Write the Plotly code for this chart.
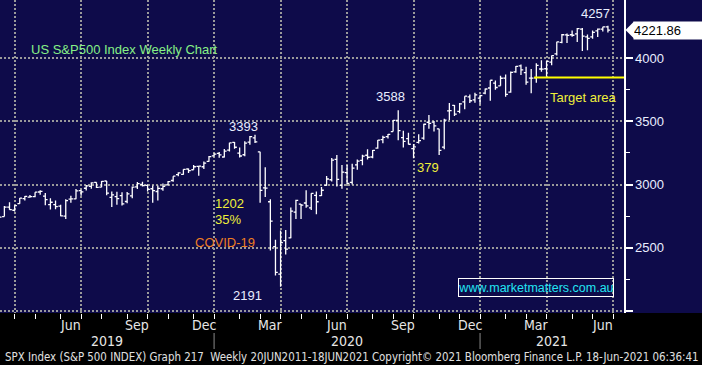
import pandas as pd
import plotly.graph_objects as go

# ---------------- data (weekly S&P 500 bars, week-ending Friday) ----------------
week_end = [
    "2019-03-01", "2019-03-08", "2019-03-15", "2019-03-22", "2019-03-29",
    "2019-04-05", "2019-04-12", "2019-04-19", "2019-04-26",
    "2019-05-03", "2019-05-10", "2019-05-17", "2019-05-24", "2019-05-31",
    "2019-06-07", "2019-06-14", "2019-06-21", "2019-06-28",
    "2019-07-05", "2019-07-12", "2019-07-19", "2019-07-26",
    "2019-08-02", "2019-08-09", "2019-08-16", "2019-08-23", "2019-08-30",
    "2019-09-06", "2019-09-13", "2019-09-20", "2019-09-27",
    "2019-10-04", "2019-10-11", "2019-10-18", "2019-10-25",
    "2019-11-01", "2019-11-08", "2019-11-15", "2019-11-22", "2019-11-29",
    "2019-12-06", "2019-12-13", "2019-12-20", "2019-12-27",
    "2020-01-03", "2020-01-10", "2020-01-17", "2020-01-24", "2020-01-31",
    "2020-02-07", "2020-02-14", "2020-02-21", "2020-02-28",
    "2020-03-06", "2020-03-13", "2020-03-20", "2020-03-27",
    "2020-04-03", "2020-04-10", "2020-04-17", "2020-04-24",
    "2020-05-01", "2020-05-08", "2020-05-15", "2020-05-22", "2020-05-29",
    "2020-06-05", "2020-06-12", "2020-06-19", "2020-06-26",
    "2020-07-03", "2020-07-10", "2020-07-17", "2020-07-24", "2020-07-31",
    "2020-08-07", "2020-08-14", "2020-08-21", "2020-08-28",
    "2020-09-04", "2020-09-11", "2020-09-18", "2020-09-25",
    "2020-10-02", "2020-10-09", "2020-10-16", "2020-10-23", "2020-10-30",
    "2020-11-06", "2020-11-13", "2020-11-20", "2020-11-27",
    "2020-12-04", "2020-12-11", "2020-12-18", "2020-12-25",
    "2021-01-01", "2021-01-08", "2021-01-15", "2021-01-22", "2021-01-29",
    "2021-02-05", "2021-02-12", "2021-02-19", "2021-02-26",
    "2021-03-05", "2021-03-12", "2021-03-19", "2021-03-26",
    "2021-04-02", "2021-04-09", "2021-04-16", "2021-04-23", "2021-04-30",
    "2021-05-07", "2021-05-14", "2021-05-21", "2021-05-28",
    "2021-06-04", "2021-06-11", "2021-06-18",
]
open_px = [
    2796, 2798, 2747, 2822, 2797,
    2849, 2889, 2900, 2904,
    2941, 2908, 2841, 2841, 2830,
    2751, 2885, 2886, 2952,
    2971, 2985, 3017, 2979,
    3028, 2898, 2904, 2913, 2866,
    2910, 2981, 3002, 2994,
    2967, 2945, 2967, 2997,
    3032, 3078, 3081, 3123, 3117,
    3144, 3141, 3183, 3227,
    3247, 3218, 3273, 3333, 3248,
    3236, 3335, 3370, 3258,
    2974, 2864, 2509, 2291,
    2556, 2578, 2782, 2846,
    2854, 2815, 2915, 2913, 2993,
    3038, 3199, 2993, 3094,
    3018, 3155, 3191, 3232, 3218,
    3289, 3356, 3380, 3419,
    3507, 3371, 3363, 3285,
    3334, 3368, 3493, 3494, 3441,
    3296, 3583, 3627, 3579,
    3654, 3694, 3670, 3684,
    3723, 3764, 3803, 3781, 3842,
    3731, 3892, 3939, 3886,
    3842, 3844, 3914, 3916,
    3969, 4034, 4124, 4184, 4185,
    4192, 4229, 4169, 4168,
    4216, 4230, 4248,
]
high_px = [
    2813, 2816, 2830, 2860, 2836,
    2893, 2910, 2918, 2940,
    2955, 2933, 2892, 2874, 2841,
    2884, 2911, 2964, 2958,
    2996, 3018, 3018, 3028,
    3029, 2945, 2943, 2939, 2941,
    2985, 3021, 3022, 3000,
    2993, 2993, 3008, 3028,
    3066, 3098, 3121, 3128, 3154,
    3146, 3183, 3226, 3248,
    3258, 3282, 3330, 3337, 3293,
    3342, 3385, 3394, 3260,
    3137, 2883, 2563, 2637,
    2641, 2819, 2880, 2846,
    2955, 2932, 2945, 2980, 3068,
    3211, 3233, 3155, 3155,
    3165, 3198, 3236, 3280, 3273,
    3352, 3387, 3399, 3509,
    3588, 3425, 3409, 3321,
    3398, 3482, 3550, 3502, 3441,
    3521, 3646, 3629, 3645,
    3699, 3712, 3726, 3711,
    3760, 3826, 3823, 3860, 3870,
    3894, 3937, 3950, 3931,
    3915, 3960, 3983, 3978,
    4021, 4130, 4191, 4195, 4219,
    4238, 4238, 4187, 4218,
    4234, 4249, 4257,
]
low_px = [
    2775, 2722, 2747, 2800, 2786,
    2849, 2874, 2896, 2899,
    2920, 2836, 2802, 2805, 2750,
    2728, 2856, 2884, 2912,
    2953, 2966, 2973, 2979,
    2915, 2822, 2840, 2834, 2853,
    2891, 2964, 2985, 2946,
    2856, 2874, 2952, 2992,
    3023, 3066, 3078, 3091, 3117,
    3070, 3124, 3180, 3223,
    3212, 3214, 3261, 3283, 3214,
    3224, 3315, 3328, 2856,
    2902, 2479, 2281, 2192,
    2447, 2575, 2727, 2727,
    2816, 2798, 2766, 2909, 2991,
    3025, 2984, 2966, 3004,
    3000, 3118, 3153, 3199, 3209,
    3284, 3326, 3364, 3419,
    3350, 3293, 3316, 3209,
    3324, 3354, 3441, 3420, 3234,
    3279, 3511, 3543, 3565,
    3595, 3646, 3648, 3636,
    3715, 3663, 3750, 3781, 3694,
    3726, 3885, 3866, 3789,
    3723, 3805, 3892, 3853,
    3944, 4021, 4118, 4119, 4169,
    4127, 4057, 4062, 4154,
    4168, 4210, 4203,
]
close_px = [
    2804, 2743, 2822, 2801, 2834,
    2893, 2907, 2905, 2940,
    2946, 2881, 2860, 2826, 2752,
    2873, 2887, 2950, 2942,
    2990, 3014, 2977, 3026,
    2932, 2919, 2889, 2847, 2926,
    2979, 3007, 2992, 2962,
    2952, 2970, 2986, 3023,
    3067, 3093, 3120, 3110, 3141,
    3146, 3169, 3221, 3240,
    3235, 3265, 3330, 3295, 3226,
    3328, 3380, 3338, 2954,
    2972, 2711, 2305, 2541,
    2489, 2790, 2875, 2837,
    2831, 2930, 2864, 2955, 3044,
    3194, 3041, 3098, 3009,
    3130, 3185, 3225, 3216, 3271,
    3351, 3373, 3397, 3508,
    3427, 3341, 3319, 3298,
    3348, 3477, 3484, 3465, 3270,
    3509, 3585, 3558, 3638,
    3699, 3663, 3709, 3703,
    3756, 3825, 3768, 3841, 3714,
    3887, 3935, 3907, 3811,
    3842, 3943, 3913, 3975,
    4020, 4129, 4185, 4180, 4181,
    4233, 4174, 4156, 4204,
    4230, 4247, 4221.86,
]

last_price = 4221.86
target_level = 3847
target_start = "2021-03-09"

y_ticks = [2000, 2500, 3000, 3500, 4000]
y_tick_text = ["", "2500", "3000", "3500", "4000"]
y_minor_ticks = [2250, 2750, 3250, 3750]
quarter_month_names = {3: "Mar", 6: "Jun", 9: "Sep", 12: "Dec"}

X_RANGE = ["2019-03-09", "2021-07-10"]
Y_RANGE = [1984, 4460]

# ---------------- derived axis helpers ----------------
fridays = pd.date_range("2019-01-04", "2021-07-30", freq="W-FRI")
fr = pd.Series(fridays, index=fridays)
month_last = [pd.Timestamp(d) for d in fr.groupby(fr.index.to_period("M")).max().values]
lo, hi = pd.Timestamp(X_RANGE[0]), pd.Timestamp(X_RANGE[1])
month_ticks = [d for d in month_last if lo <= d <= hi]
quarter_ticks = [d for d in month_ticks if d.month in quarter_month_names]

month_labels = []
for i in range(1, len(month_last)):
    d = month_last[i]
    if d.month in quarter_month_names and lo <= d <= hi + pd.Timedelta(days=7):
        mid = month_last[i - 1] + (d - month_last[i - 1]) / 2
        if mid > lo + pd.Timedelta(days=20):
            month_labels.append((mid, quarter_month_names[d.month]))

year_bounds = [d for d in quarter_ticks if d.month == 12]
year_edges = [lo] + year_bounds + [hi]
year_labels = []
for i in range(len(year_edges) - 1):
    mid = year_edges[i] + (year_edges[i + 1] - year_edges[i]) / 2
    year_labels.append((mid, str(year_edges[i].year if i == 0 else year_edges[i].year + 1)))

fmt = lambda d: pd.Timestamp(d).strftime("%Y-%m-%d %H:%M")

NAVY = "#0e0b4a"
GRID = "#9a9a9a"
WHITE_TXT = "#e9eeff"
YELLOW = "#f0f03a"
FONT = "Liberation Sans, Arial, sans-serif"
NARROW = "Liberation Sans Narrow, DejaVu Sans Condensed, Arial Narrow, Liberation Sans, sans-serif"

fig = go.Figure()
fig.add_trace(go.Ohlc(
    x=week_end, open=open_px, high=high_px, low=low_px, close=close_px,
    increasing=dict(line=dict(color="white", width=1.3)),
    decreasing=dict(line=dict(color="white", width=1.3)),
    tickwidth=0.45, showlegend=False, hoverinfo="skip",
))

PH = 313.0  # plot height px
PW = 624.0  # plot width px

def py(pix):
    return (PH - pix) / PH

def px(pix):
    return pix / PW

annotations = []
for d, name in month_labels:
    annotations.append(dict(x=fmt(d), xref="x", y=py(325), yref="paper", text=name,
                            showarrow=False, xanchor="center", yanchor="middle",
                            font=dict(family=NARROW, size=14, color="#e6e6e6")))
for d, name in year_labels:
    annotations.append(dict(x=fmt(d), xref="x", y=py(341), yref="paper", text=name,
                            showarrow=False, xanchor="center", yanchor="middle",
                            font=dict(family=NARROW, size=14, color="#e6e6e6")))

annotations.append(dict(
    x=px(3), xref="paper", y=py(357), yref="paper", xanchor="left", yanchor="middle",
    text="SPX Index (S&P 500 INDEX) Graph 217&nbsp;&nbsp;Weekly 20JUN2011-18JUN2021 Copyright\u00a9 2021 Bloomberg Finance L.P. 18-Jun-2021 06:36:41",
    showarrow=False, font=dict(family=NARROW, size=11.4, color="#e0e0e0")))

annotations += [
    dict(x=px(29), xref="paper", y=py(50), yref="paper", text="US S&P500 Index Weekly Chart",
         xanchor="left", yanchor="middle", showarrow=False,
         font=dict(family=FONT, size=13, color="#86f086")),
    dict(x="2020-02-05", y=3458, text="3393", xanchor="center", yanchor="middle", showarrow=False,
         font=dict(family=FONT, size=13, color=WHITE_TXT)),
    dict(x="2019-12-26", y=2851, text="1202", xanchor="left", yanchor="middle", showarrow=False,
         font=dict(family=FONT, size=13, color=YELLOW)),
    dict(x="2019-12-26", y=2725, text="35%", xanchor="left", yanchor="middle", showarrow=False,
         font=dict(family=FONT, size=13, color=YELLOW)),
    dict(x="2019-11-28", y=2543, text="COVID-19", xanchor="left", yanchor="middle", showarrow=False,
         font=dict(family=FONT, size=13, color="#ef7d22")),
    dict(x="2020-02-11", y=2126, text="2191", xanchor="center", yanchor="middle", showarrow=False,
         font=dict(family=FONT, size=13, color=WHITE_TXT)),
    dict(x="2020-08-25", y=3695, text="3588", xanchor="center", yanchor="middle", showarrow=False,
         font=dict(family=FONT, size=13, color=WHITE_TXT)),
    dict(x="2020-10-15", y=3135, text="379", xanchor="center", yanchor="middle", showarrow=False,
         font=dict(family=FONT, size=13, color=YELLOW)),
    dict(x="2021-06-01", y=4357, text="4257", xanchor="center", yanchor="middle", showarrow=False,
         font=dict(family=FONT, size=13, color=WHITE_TXT)),
    dict(x="2021-05-15", y=3687, text="Target area", xanchor="center", yanchor="middle", showarrow=False,
         font=dict(family=FONT, size=13, color=YELLOW)),
    dict(x=px(536), xref="paper", y=py(287), yref="paper", text="www.marketmatters.com.au",
         xanchor="center", yanchor="middle", showarrow=False, width=154, height=17,
         bordercolor="white", borderwidth=1, borderpad=0,
         font=dict(family=FONT, size=12.5, color="#22e4f2")),
    dict(x=px(633), xref="paper", y=last_price, yref="y", text="4221.86",
         xanchor="left", yanchor="middle", showarrow=False, width=72, height=17, align="left",
         bgcolor="white", borderpad=0, font=dict(family=FONT, size=13, color="black")),
]

half_h = 8.5 * (Y_RANGE[1] - Y_RANGE[0]) / PH
shapes = [
    dict(type="rect", xref="paper", yref="paper", x0=1, x1=702 / PW, y0=0, y1=1,
         fillcolor=NAVY, line=dict(width=0), layer="below"),
    dict(type="line", xref="x", yref="y", x0=target_start, x1=X_RANGE[1],
         y0=target_level, y1=target_level, line=dict(color="#ffff00", width=2)),
    dict(type="path", xref="paper", yref="y",
         path=f"M {px(625.5)},{last_price} L {px(634)},{last_price + half_h} "
              f"L {px(634)},{last_price - half_h} Z",
         fillcolor="white", line=dict(width=0)),
]
for d in year_bounds:
    shapes.append(dict(type="line", xref="x", yref="paper", x0=fmt(d), x1=fmt(d),
                       y0=py(333), y1=py(349), line=dict(color="#8a8a8a", width=1)))

fig.update_layout(
    template="none",
    width=702, height=365, autosize=False,
    margin=dict(l=0, r=78, t=0, b=52, pad=0, autoexpand=False),
    paper_bgcolor="black", plot_bgcolor=NAVY,
    showlegend=False, hovermode=False,
    annotations=annotations, shapes=shapes,
    xaxis=dict(
        type="date", range=X_RANGE, rangeslider=dict(visible=False), automargin=False,
        tickmode="array", tickvals=[fmt(d) for d in quarter_ticks], showticklabels=False,
        ticks="outside", ticklen=5, tickwidth=1, tickcolor="white",
        showgrid=True, gridcolor=GRID, gridwidth=2, griddash="2px,2px",
        showline=False, zeroline=False, fixedrange=True,
        minor=dict(tickmode="array", tickvals=[fmt(d) for d in month_ticks],
                   ticks="outside", ticklen=5, tickwidth=1, tickcolor="white", showgrid=False),
    ),
    yaxis=dict(
        side="right", range=Y_RANGE, automargin=False,
        tickmode="array", tickvals=y_ticks, ticktext=y_tick_text,
        ticks="outside", ticklen=7, tickwidth=2, tickcolor="white",
        tickfont=dict(family=FONT, size=13, color=WHITE_TXT),
        showgrid=True, gridcolor=GRID, gridwidth=2, griddash="2px,2px",
        showline=True, linecolor="white", linewidth=1.5, zeroline=False, fixedrange=True,
        minor=dict(tickmode="array", tickvals=y_minor_ticks, ticks="outside",
                   ticklen=4, tickwidth=1, tickcolor="white", showgrid=False),
    ),
)

fig.write_html(
    "out.html",
    config={"displayModeBar": False, "staticPlot": True},
    post_script="document.body.style.margin='0';document.body.style.background='black';",
)
